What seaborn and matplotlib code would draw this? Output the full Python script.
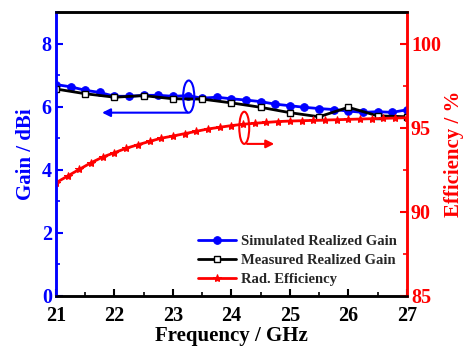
import numpy as np
import pandas as pd
import matplotlib
matplotlib.use("Agg")
import matplotlib.pyplot as plt
from matplotlib.patches import Ellipse
from matplotlib.ticker import MultipleLocator
import seaborn as sns

# Simulated realized gain (dBi), 0.25 GHz step
sim_freq = [21.0, 21.25, 21.5, 21.75, 22.0, 22.25, 22.5, 22.75, 23.0, 23.25, 23.5, 23.75,
            24.0, 24.25, 24.5, 24.75, 25.0, 25.25, 25.5, 25.75, 26.0, 26.25, 26.5, 26.75, 27.0]
sim_gain = [6.70, 6.63, 6.52, 6.45, 6.33, 6.33, 6.36, 6.36, 6.33, 6.35, 6.27, 6.30,
            6.25, 6.21, 6.16, 6.08, 6.03, 5.98, 5.94, 5.91, 5.86, 5.82, 5.84, 5.82, 5.90]

# Measured realized gain (dBi), 0.5 GHz step
meas_freq = [21.0, 21.5, 22.0, 22.5, 23.0, 23.5, 24.0, 24.5, 25.0, 25.5, 26.0, 26.5, 27.0]
meas_gain = [6.56, 6.41, 6.30, 6.35, 6.25, 6.24, 6.12, 5.98, 5.81, 5.68, 5.98, 5.71, 5.68]

# Radiation efficiency (%), 0.2 GHz step
eff_freq = [21.0, 21.2, 21.4, 21.6, 21.8, 22.0, 22.2, 22.4, 22.6, 22.8, 23.0, 23.2, 23.4,
            23.6, 23.8, 24.0, 24.2, 24.4, 24.6, 24.8, 25.0, 25.2, 25.4, 25.6, 25.8, 26.0,
            26.2, 26.4, 26.6, 26.8, 27.0]
eff_val = [91.74, 92.14, 92.54, 92.93, 93.27, 93.53, 93.79, 94.00, 94.20, 94.39, 94.52,
           94.66, 94.80, 94.94, 95.04, 95.14, 95.22, 95.28, 95.33, 95.38, 95.41, 95.43,
           95.45, 95.47, 95.49, 95.51, 95.53, 95.55, 95.57, 95.59, 95.61]

x_ticks = [21, 22, 23, 24, 25, 26, 27]
gain_ticks = [0, 2, 4, 6, 8]
eff_ticks = [85, 90, 95, 100]

sns.set_style("ticks")
plt.rcParams["font.family"] = ["Liberation Serif", "DejaVu Serif"]
plt.rcParams["font.weight"] = "bold"
plt.rcParams["mathtext.default"] = "regular"

fig = plt.figure(figsize=(4.67, 3.54), dpi=100)
ax = fig.add_axes([0.12, 0.164, 0.751, 0.802])
ax2 = ax.twinx()

BLUE = "#0000ff"
RED = "#ff0000"

sim_df = pd.DataFrame({"f": sim_freq, "g": sim_gain})
meas_df = pd.DataFrame({"f": meas_freq, "g": meas_gain})
eff_df = pd.DataFrame({"f": eff_freq, "e": eff_val})

sns.lineplot(data=sim_df, x="f", y="g", ax=ax, color=BLUE, lw=2.0, marker="o",
             markersize=5.5, markeredgecolor=BLUE, label="Simulated Realized Gain",
             zorder=3, legend=False)
sns.lineplot(data=meas_df, x="f", y="g", ax=ax, color="black", lw=2.0, marker="s",
             markersize=5, markerfacecolor="white", markeredgecolor="black",
             markeredgewidth=1.0, label="Measured Realized Gain", zorder=4, legend=False)
sns.lineplot(data=eff_df, x="f", y="e", ax=ax2, color=RED, lw=2.0, marker="*",
             markersize=6, markeredgecolor=RED, label="Rad. Efficiency", legend=False)

ax.set_xlim(21, 27)
ax.set_ylim(0, 9)
ax2.set_ylim(85, 101.9)

ax.set_xticks(x_ticks)
ax.set_yticks(gain_ticks)
ax2.set_yticks(eff_ticks)
ax.xaxis.set_minor_locator(MultipleLocator(0.5))
ax.yaxis.set_minor_locator(MultipleLocator(1))
ax2.yaxis.set_minor_locator(MultipleLocator(2.5))

ax.set_xlabel("Frequency / GHz", fontsize=15, fontweight="bold", color="black", labelpad=0)
ax.set_ylabel("Gain / dBi", fontsize=15, fontweight="bold", color=BLUE, labelpad=4)
ax2.set_ylabel("Efficiency / %", fontsize=15, fontweight="bold", color=RED, labelpad=2)

ax.tick_params(axis="x", which="both", direction="in", colors="black", labelsize=14.5, pad=7)
ax.tick_params(axis="x", which="major", length=5, width=1.5)
ax.tick_params(axis="x", which="minor", length=3, width=1.2)
ax.tick_params(axis="y", which="both", direction="in", colors=BLUE, labelsize=14.5, pad=3)
ax.tick_params(axis="y", which="major", length=5, width=1.5)
ax.tick_params(axis="y", which="minor", length=3, width=1.2)
ax2.tick_params(axis="y", which="both", direction="in", colors=RED, labelsize=14.5, pad=3)
ax2.tick_params(axis="y", which="major", length=5, width=1.5)
ax2.tick_params(axis="y", which="minor", length=3, width=1.2)
for lbl in ax.get_xticklabels() + ax.get_yticklabels() + ax2.get_yticklabels():
    lbl.set_fontweight("bold")

for a in (ax, ax2):
    for s in a.spines.values():
        s.set_linewidth(1.8)
        s.set_visible(True)
    a.spines["top"].set_color("black")
    a.spines["bottom"].set_color("black")
    a.spines["left"].set_color(BLUE)
    a.spines["right"].set_color(RED)

# Curve indicators: ellipse with arrow pointing to the relevant axis
ax.add_patch(Ellipse((23.27, 6.32), 0.19, 1.02, fill=False, ec=BLUE, lw=1.5, zorder=6))
ax.annotate("", xy=(21.74, 5.81), xytext=(23.30, 5.81),
            arrowprops=dict(arrowstyle="-|>", color=BLUE, lw=1.5, mutation_scale=12), zorder=6)
ax.add_patch(Ellipse((24.22, 5.33), 0.17, 1.02, fill=False, ec=RED, lw=1.5, zorder=6))
ax.annotate("", xy=(24.78, 4.82), xytext=(24.22, 4.82),
            arrowprops=dict(arrowstyle="-|>", color=RED, lw=1.5, mutation_scale=12), zorder=6)

h1, l1 = ax.get_legend_handles_labels()
h2, l2 = ax2.get_legend_handles_labels()
leg = ax2.legend(h1 + h2, l1 + l2, loc="lower right", frameon=False,
                 prop={"family": "Liberation Serif", "weight": "bold", "size": 10.5},
                 handlelength=2.6, handletextpad=0.3, labelspacing=0.4,
                 borderaxespad=0.3, bbox_to_anchor=(1.0, 0.0))

fig.savefig("out.png", dpi=100)
